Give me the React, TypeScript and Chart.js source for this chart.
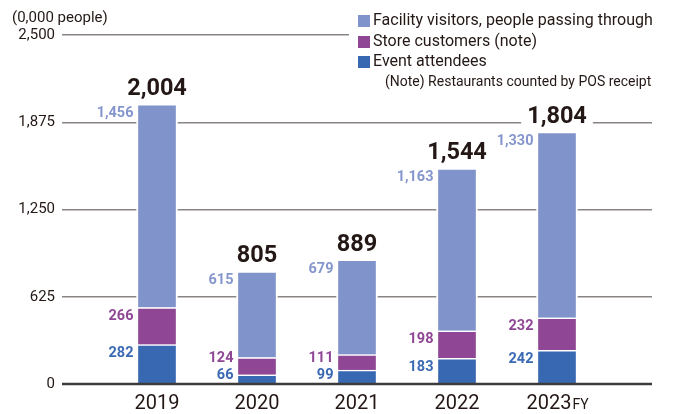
import React, { useEffect, useRef } from 'react';
import { Chart, registerables } from 'chart.js';
Chart.register(...registerables);

const years = [2019, 2020, 2021, 2022, 2023];
const yearLabels = ['2019', '2020', '2021', '2022', '2023'];
const eventAttendees = [282, 66, 99, 183, 242];
const storeCustomers = [266, 124, 111, 198, 232];
const facilityVisitors = [1456, 615, 679, 1163, 1330];
const totals = [2004, 805, 889, 1544, 1804];
const yTicks = [0, 625, 1250, 1875, 2500];
const seriesNames = ['Event attendees', 'Store customers (note)', 'Facility visitors, people passing through'];
const unitLabel = '(0,000 people)';
const noteText = '(Note) Restaurants counted by POS receipt';
const fySuffix = 'FY';

const barColors = ['#3868b1', '#8f4795', '#8093cb'];
const labelColors = ['#3a6ab4', '#8f4795', '#8596cd'];
const INK = '#231815';
const FONT = 'Roboto, "DejaVu Sans", sans-serif';

const fmt = (v: number) => v.toLocaleString('en-US');
const seriesValues = [eventAttendees, storeCustomers, facilityVisitors];

const overlay = {
  id: 'overlay',
  beforeDatasetsDraw(chart: any) {
    const ctx = chart.ctx;
    ctx.save();
    ctx.fillStyle = '#fff';
    ctx.fillRect(349, 6, 324, 88);
    ctx.restore();
  },
  afterDatasetsDraw(chart: any) {
    const ctx = chart.ctx;
    const ys = chart.scales.y;
    const area = chart.chartArea;
    const y0 = ys.getPixelForValue(0);
    ctx.save();
    // zero line
    ctx.strokeStyle = '#3e3a39';
    ctx.lineWidth = 2.5;
    ctx.beginPath();
    ctx.moveTo(area.left, y0);
    ctx.lineTo(area.right, y0);
    ctx.stroke();

    const metas = [0, 1, 2].map((i) => chart.getDatasetMeta(i));
    years.forEach((_, i) => {
      const els = metas.map((m: any) => m.data[i]);
      const cx = els[0].x;
      const right = cx - 23.5;
      ctx.font = `bold 14.5px ${FONT}`;
      ctx.textAlign = 'right';
      ctx.textBaseline = 'middle';
      let limit = y0 - 9;
      els.forEach((el: any, k: number) => {
        const ly = Math.min(el.y + 9, limit);
        ctx.fillStyle = labelColors[k];
        ctx.fillText(fmt(seriesValues[k][i]), right, ly);
        limit = ly - 17;
      });
      // total
      const topY = els[2].y;
      ctx.font = `bold 23.5px ${FONT}`;
      const txt = fmt(totals[i]);
      const w = ctx.measureText(txt).width;
      const ty = topY - 15;
      ctx.fillStyle = '#fff';
      ctx.fillRect(cx - w / 2 - 6, ty - 11, w + 12, 22);
      ctx.textAlign = 'center';
      ctx.fillStyle = INK;
      ctx.fillText(txt, cx, ty);
      // x label
      ctx.textBaseline = 'alphabetic';
      const base = 409;
      if (i === years.length - 1) {
        ctx.font = `20px ${FONT}`;
        const w1 = ctx.measureText(yearLabels[i]).width;
        ctx.font = `14px ${FONT}`;
        const w2 = ctx.measureText(fySuffix).width;
        const start = cx - (w1 + w2) / 2;
        ctx.textAlign = 'left';
        ctx.font = `20px ${FONT}`;
        ctx.fillText(yearLabels[i], start, base);
        ctx.font = `14px ${FONT}`;
        ctx.fillText(fySuffix, start + w1 + 1, base);
      } else {
        ctx.font = `20px ${FONT}`;
        ctx.textAlign = 'center';
        ctx.fillText(yearLabels[i], cx, base);
      }
    });

    // unit label
    ctx.font = `15px ${FONT}`;
    ctx.fillStyle = INK;
    ctx.textAlign = 'left';
    ctx.textBaseline = 'middle';
    ctx.fillText(unitLabel, 12, 18);

    // legend
    const order = [2, 1, 0];
    const rowsY = [21, 42, 62];
    order.forEach((k, r) => {
      ctx.fillStyle = barColors[k];
      ctx.fillRect(358, rowsY[r] - 6, 12, 12);
      ctx.fillStyle = INK;
      ctx.font = `16px ${FONT}`;
      ctx.fillText(seriesNames[k], 373, rowsY[r]);
    });
    ctx.font = `14px ${FONT}`;
    ctx.fillText(noteText, 385, 82);
    ctx.restore();
  },
};

export default function App() {
  const ref = useRef<HTMLCanvasElement>(null);
  useEffect(() => {
    document.body.style.margin = '0';
    const canvas = ref.current!;
    const border = { top: 1.5, left: 2, right: 2, bottom: 0 };
    const chart = new Chart(canvas, {
      type: 'bar',
      data: {
        datasets: seriesValues.map((vals, k) => ({
          label: seriesNames[k],
          data: years.map((x, i) => ({ x, y: vals[i] })),
          backgroundColor: barColors[k],
          borderColor: '#ffffff',
          borderWidth: border,
          borderSkipped: false,
          barThickness: 41,
          stack: 's',
        })),
      },
      options: {
        responsive: false,
        animation: false,
        events: [],
        layout: { padding: { left: 0, right: 21, top: 35, bottom: 30 } },
        plugins: { legend: { display: false }, tooltip: { enabled: false } },
        scales: {
          x: { type: 'linear', min: 2018.05, max: 2023.95, offset: false, stacked: true, display: false },
          y: {
            min: 0,
            max: 2500,
            stacked: true,
            afterBuildTicks: (s: any) => {
              s.ticks = yTicks.map((v) => ({ value: v }));
            },
            afterFit: (s: any) => {
              s.width = 62;
            },
            ticks: {
              callback: (v: any) => fmt(Number(v)),
              font: { size: 15, family: FONT },
              color: INK,
              padding: 7,
            },
            grid: {
              color: (c: any) => (c.tick && c.tick.value === 0 ? 'rgba(0,0,0,0)' : '#8a8483'),
              lineWidth: 1.5,
              drawTicks: false,
            },
            border: { display: false },
          },
        },
      } as any,
      plugins: [overlay],
    });
    return () => chart.destroy();
  }, []);
  return <canvas ref={ref} width={673} height={414} style={{ display: 'block' }} />;
}
